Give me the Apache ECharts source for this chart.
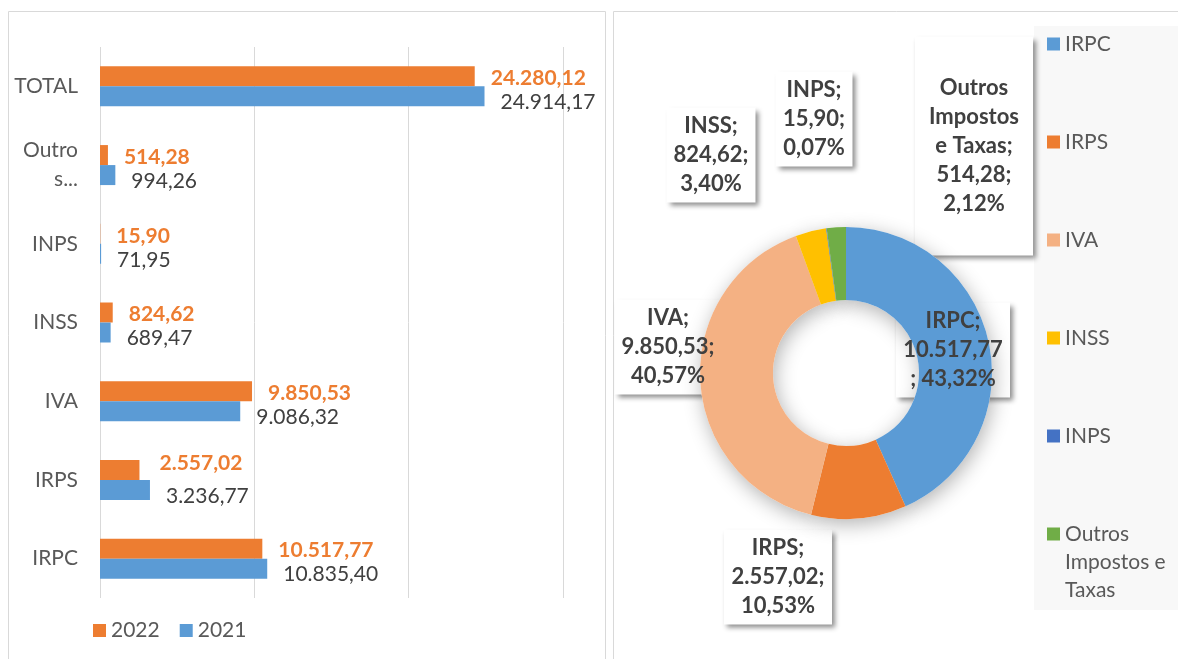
<!DOCTYPE html>
<html>
<head>
    <meta charset="utf-8">
    <title>Impostos</title>
    <style type="text/css">
        * { margin: 0; padding: 0; }
        html, body { background: #fff; }
        #chart { width: 1178px; height: 659px; }
    </style>
</head>
<body>
<div id="chart"></div>
<script src="https://cdn.jsdelivr.net/npm/echarts@6/dist/echarts.min.js"></script>
<script type="text/javascript">

    // categorias (de baixo para cima no gráfico de barras)
    const categories = ['IRPC', 'IRPS', 'IVA', 'INSS', 'INPS', 'Outros Impostos e Taxas', 'TOTAL'];
    const values2022 = [10517.77, 2557.02, 9850.53, 824.62, 15.90, 514.28, 24280.12];
    const values2021 = [10835.40, 3236.77, 9086.32, 689.47, 71.95, 994.26, 24914.17];
    const years = ['2022', '2021'];

    // donut = 2022 sem o TOTAL
    const pieNames = categories.slice(0, 6);
    const pieValues = values2022.slice(0, 6);
    const pieTotal = pieValues.reduce(function (a, b) { return a + b; }, 0);

    const pieColors = ['#5B9BD5', '#ED7D31', '#F4B183', '#FFC000', '#4472C4', '#70AD47'];
    // centro e largura das caixas de rótulo (px)
    const boxCenter = [[953, 350], [778, 577], [668, 347], [711, 155], [814, 119], [974, 146]];
    const boxWidth = [114, 108, 107, 89, 77, 118];
    const boxPadV = [4, 4, 4, 4, 4, 37];
    // deslocamento manual dos rótulos de 2022 (o de IRPS está mais acima no original)
    const nudge2022 = [[0, 0], [4, -9], [0, 0], [0, 0], [0, 0], [0, 0], [0, 0]];

    const font = 'Lato, "Open Sans", sans-serif';

    function fmt(v) {
        let parts = v.toFixed(2).split('.');
        return parts[0].replace(/\B(?=(\d{3})+(?!\d))/g, '.') + ',' + parts[1];
    }

    function pieLabel(p) {
        let name = p.name === 'Outros Impostos e Taxas' ? 'Outros\nImpostos\ne Taxas' : p.name;
        let pct = (p.value / pieTotal * 100).toFixed(2).replace('.', ',') + '%';
        if (p.name === 'IRPC') {
            return name + ';\n' + fmt(p.value) + '\n; ' + pct;
        }
        return name + ';\n' + fmt(p.value) + ';\n' + pct;
    }

    function pieData(withBox) {
        return pieNames.map(function (n, i) {
            let d = {name: n, value: pieValues[i]};
            if (withBox) {
                d.label = {width: boxWidth[i], padding: [boxPadV[i], 0]};
            }
            return d;
        });
    }

    function boxLayout(params) {
        let c = boxCenter[params.dataIndex];
        return {x: c[0], y: c[1], align: 'center', verticalAlign: 'middle'};
    }

    const pieLabelBase = {
        show: true,
        position: 'inside',
        formatter: pieLabel,
        fontFamily: font,
        fontSize: 22,
        fontWeight: 'bold',
        lineHeight: 29,
        align: 'center'
    };

    const chart = echarts.init(document.getElementById('chart'));

    const option = {
        animation: false,
        textStyle: {fontFamily: font},
        graphic: [
            {type: 'rect', shape: {x: 8.5, y: 11.5, width: 597, height: 660}, style: {fill: 'none', stroke: '#d9d9d9', lineWidth: 1}, z: -10},
            {type: 'rect', shape: {x: 613.5, y: 11.5, width: 580, height: 660}, style: {fill: 'none', stroke: '#d9d9d9', lineWidth: 1}, z: -10},
            {type: 'rect', shape: {x: 1034, y: 26, width: 150, height: 584}, style: {fill: '#f8f8f8'}, z: -9}
        ],
        legend: [
            {
                data: pieNames.slice(0, 5),
                orient: 'vertical',
                left: 1047,
                top: 30,
                padding: 0,
                itemWidth: 13,
                itemHeight: 13,
                itemGap: 70,
                icon: 'rect',
                textStyle: {fontFamily: font, fontSize: 21, lineHeight: 28, color: '#595959'}
            },
            {
                // duas linhas vazias no topo para o ícone ficar ao lado de "Outros"
                data: pieNames.slice(5),
                orient: 'vertical',
                left: 1047,
                top: 464,
                padding: 0,
                itemWidth: 13,
                itemHeight: 13,
                icon: 'rect',
                formatter: function () { return '\n\nOutros\nImpostos e\nTaxas'; },
                textStyle: {fontFamily: font, fontSize: 21, lineHeight: 28, color: '#595959'}
            },
            {
                data: years,
                left: 93,
                top: 620,
                padding: 0,
                itemWidth: 13,
                itemHeight: 13,
                itemGap: 20,
                icon: 'rect',
                textStyle: {fontFamily: font, fontSize: 21, color: '#595959'}
            }
        ],
        grid: {left: 100, right: 615, top: 47, bottom: 61},
        xAxis: {
            type: 'value',
            min: 0,
            max: 30000,
            interval: 10000,
            axisLabel: {show: false},
            axisLine: {show: false},
            axisTick: {show: false},
            splitLine: {lineStyle: {color: '#d9d9d9', width: 1}}
        },
        yAxis: {
            type: 'category',
            data: categories,
            axisLine: {show: false},
            axisTick: {show: false},
            axisLabel: {
                margin: 22,
                fontFamily: font,
                fontSize: 21,
                lineHeight: 29,
                color: '#595959',
                formatter: function (v) { return v === 'Outros Impostos e Taxas' ? 'Outro\ns...' : v; }
            }
        },
        series: [
            {
                name: '2022',
                type: 'bar',
                data: values2022.map(function (v, i) {
                    return {value: v, label: {offset: [nudge2022[i][0], 2 + nudge2022[i][1]]}};
                }),
                barWidth: 20,
                barGap: '0%',
                itemStyle: {color: '#ED7D31'},
                label: {
                    show: true, position: 'right', distance: 16,
                    formatter: function (p) { return fmt(p.value); },
                    fontFamily: font, fontSize: 21, fontWeight: 'bold', color: '#ED7D31'
                }
            },
            {
                name: '2021',
                type: 'bar',
                data: values2021,
                barWidth: 20,
                barGap: '0%',
                itemStyle: {color: '#5B9BD5'},
                label: {
                    show: true, position: 'right', distance: 16, offset: [0, 6],
                    formatter: function (p) { return fmt(p.value); },
                    fontFamily: font, fontSize: 21, color: '#404040'
                }
            },
            {
                // donut visível
                name: 'Impostos 2022',
                type: 'pie',
                center: [846, 373],
                radius: [73, 146],
                startAngle: 90,
                z: 4,
                color: pieColors,
                data: pieData(false),
                label: {show: false},
                labelLine: {show: false},
                emphasis: {disabled: true}
            },
            {
                // caixas brancas dos rótulos (atrás do donut)
                name: 'caixas',
                type: 'pie',
                center: [846, 373],
                radius: [73, 146],
                startAngle: 90,
                z: 1,
                silent: true,
                data: pieData(true),
                itemStyle: {color: 'rgba(0,0,0,0)'},
                label: Object.assign({}, pieLabelBase, {
                    color: 'rgba(0,0,0,0)',
                    backgroundColor: '#fff',
                    shadowColor: 'rgba(0,0,0,0.45)',
                    shadowBlur: 5,
                    shadowOffsetX: 3,
                    shadowOffsetY: 3
                }),
                labelLine: {show: false},
                labelLayout: boxLayout
            },
            {
                // sombra suave do donut
                name: 'sombra',
                type: 'pie',
                center: [846, 373],
                radius: [73, 146],
                startAngle: 90,
                z: 2,
                silent: true,
                data: pieData(false),
                itemStyle: {color: '#fff', shadowColor: 'rgba(0,0,0,0.3)', shadowBlur: 20, shadowOffsetX: 2, shadowOffsetY: 5},
                label: {show: false},
                labelLine: {show: false}
            },
            {
                // texto dos rótulos (por cima do donut)
                name: 'textos',
                type: 'pie',
                center: [846, 373],
                radius: [73, 146],
                startAngle: 90,
                z: 6,
                silent: true,
                data: pieData(true),
                itemStyle: {color: 'rgba(0,0,0,0)'},
                label: Object.assign({}, pieLabelBase, {color: '#404040'}),
                labelLine: {show: false},
                labelLayout: boxLayout
            }
        ]
    };

    chart.setOption(option);
</script>
</body>
</html>
